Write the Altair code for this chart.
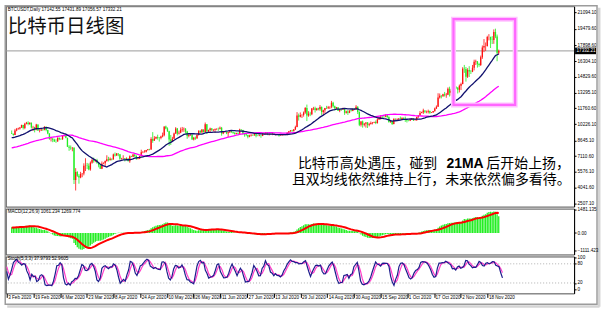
import altair as alt
import pandas as pd

# ---------------- daily BTCUSDT bars, 1 Dec 2019 .. 27 Nov 2020 (15 Mar absent from the feed) ----
close_2019_12 = [7420, 7310, 7300, 7200, 7400, 7540, 7510, 7540, 7340, 7220, 7200, 7190, 7250, 7070, 7110, 6880,
                 6620, 7280, 7150, 7190, 7140, 7510, 7320, 7250, 7200, 7200, 7250, 7320, 7390, 7220, 7170]
high_2019_12 = [7530, 7430, 7410, 7750, 7450, 7590, 7620, 7590, 7650, 7390, 7270, 7260, 7300, 7270, 7190, 7140,
                6930, 7440, 7360, 7230, 7200, 7540, 7690, 7440, 7280, 7450, 7330, 7390, 7520, 7420, 7300]
low_2019_12 = [7250, 7250, 7260, 7100, 7170, 7360, 7460, 7430, 7300, 7160, 7150, 7080, 7170, 7030, 7050, 6860,
               6560, 6430, 7060, 7100, 7100, 7130, 7270, 7180, 7140, 7170, 7080, 7240, 7310, 7200, 7150]

close_2020_01 = [7180, 6950, 7340, 7350, 7350, 7760, 8150, 8050, 7820, 8190, 8030, 8180, 8110, 8820, 8820, 8720,
                 8900, 8910, 8700, 8630, 8730, 8660, 8390, 8430, 8330, 8600, 8890, 9390, 9290, 9510, 9350]
high_2020_01 = [7250, 7210, 7400, 7400, 7500, 7800, 8210, 8450, 8060, 8200, 8300, 8200, 8200, 8880, 8900, 8860,
                9000, 8990, 9200, 8730, 8760, 8800, 8670, 8510, 8430, 8620, 8980, 9420, 9420, 9560, 9540]
low_2020_01 = [7140, 6920, 6870, 7270, 7300, 7340, 7730, 7870, 7730, 7720, 8000, 8010, 8050, 8100, 8600, 8610,
               8640, 8820, 8490, 8500, 8480, 8580, 8300, 8250, 8250, 8300, 8570, 8850, 9230, 9130, 9230]

close_2020_02 = [9390, 9340, 9290, 9180, 9610, 9730, 9800, 9900, 10150, 9850, 10270, 10350, 10240, 10360, 9900,
                 9930, 9700, 10180, 9600, 9610, 9690, 9660, 9960, 9650, 9310, 8780, 8810, 8700, 8540]
high_2020_02 = [9480, 9470, 9610, 9290, 9760, 9850, 9880, 9950, 10170, 10160, 10350, 10440, 10500, 10400, 10380,
                10060, 9970, 10250, 10190, 9720, 9770, 9710, 10020, 9980, 9670, 9340, 8980, 8890, 8800]
low_2020_02 = [9320, 9150, 9260, 9100, 9160, 9530, 9700, 9690, 9850, 9700, 9730, 10200, 10100, 10150, 9800,
               9560, 9420, 9620, 9560, 9420, 9560, 9560, 9620, 9530, 9240, 8700, 8540, 8470, 8500]

close_2020_03 = [8530, 8910, 8760, 8750, 9070, 9150, 8890, 8030, 7940, 7890, 7940, 4800, 5580, 5200, 5030,
                 5390, 5420, 6190, 6200, 6190, 5830, 6470, 6740, 6680, 6740, 6470, 6240, 5880, 6390, 6420]
high_2020_03 = [8750, 8930, 8910, 8850, 9160, 9200, 9180, 8890, 8180, 8150, 7990, 7980, 5950, 5660, 5380,
                5590, 5440, 6420, 6910, 6460, 6400, 6600, 6850, 6980, 6800, 6860, 6540, 6270, 6600, 6520]
low_2020_03 = [8410, 8520, 8660, 8680, 8700, 9010, 8850, 8000, 7630, 7730, 7590, 4410, 3780, 5100, 4440,
               4970, 5070, 5250, 5670, 5860, 5740, 5700, 6380, 6480, 6530, 6370, 6030, 5870, 5860, 6330]

close_2020_04 = [6640, 6810, 6740, 6860, 6790, 7270, 7180, 7360, 7290, 6860, 6890, 6910, 6850, 6860, 6630,
                 7100, 7050, 7270, 7130, 6850, 6860, 7130, 7490, 7510, 7540, 7700, 7790, 7760, 8790, 8620]
high_2020_04 = [6700, 7200, 7050, 6990, 6880, 7360, 7470, 7420, 7380, 7300, 6950, 7200, 6920, 6990, 6940,
                7190, 7150, 7310, 7290, 7210, 6940, 7160, 7740, 7620, 7700, 7720, 7800, 7830, 8950, 9450]
low_2020_04 = [6150, 6580, 6600, 6670, 6700, 6790, 7080, 7150, 7110, 6750, 6770, 6810, 6600, 6780, 6620,
               6470, 7020, 7030, 7050, 6760, 6800, 6830, 7090, 7400, 7450, 7470, 7650, 7680, 7730, 8410]

close_2020_05 = [8830, 8970, 8900, 8880, 9030, 9150, 9990, 9810, 9540, 8730, 8560, 8810, 9310, 9790, 9320, 9380,
                 9670, 9730, 9780, 9510, 9060, 9170, 9180, 8720, 8900, 8840, 9200, 9580, 9430, 9700, 9450]
high_2020_05 = [9060, 9020, 9200, 8960, 9100, 9400, 10000, 10080, 9910, 9580, 9170, 8990, 9400, 9930, 9850, 9590,
                9890, 9950, 9900, 9840, 9570, 9270, 9310, 9300, 8980, 9020, 9230, 9620, 9610, 9740, 9700]
low_2020_05 = [8620, 8760, 8720, 8530, 8750, 8940, 9040, 9720, 9470, 8120, 8200, 8530, 8800, 9270, 9130, 9220,
               9340, 9480, 9470, 9300, 8800, 8940, 9080, 8700, 8640, 8700, 8820, 9110, 9330, 9340, 9390]

close_2020_06 = [10200, 9520, 9660, 9790, 9620, 9670, 9750, 9780, 9770, 9880, 9320, 9470, 9470, 9340, 9430,
                 9520, 9460, 9380, 9300, 9360, 9290, 9690, 9630, 9290, 9250, 9160, 9010, 9120, 9190, 9140]
high_2020_06 = [10380, 10230, 9690, 9880, 9850, 9720, 9800, 9800, 9880, 9990, 9950, 9560, 9500, 9480, 9490,
                9580, 9560, 9490, 9430, 9390, 9420, 9780, 9700, 9670, 9330, 9280, 9200, 9190, 9230, 9200]
low_2020_06 = [9420, 9260, 9380, 9450, 9580, 9530, 9380, 9640, 9570, 9700, 9100, 9250, 9380, 9250, 8970,
               9370, 9380, 9280, 9200, 9230, 9270, 9280, 9570, 9210, 9000, 9050, 8840, 8950, 9030, 9090]

close_2020_07 = [9230, 9090, 9060, 9130, 9070, 9340, 9250, 9430, 9240, 9290, 9240, 9300, 9240, 9250, 9200, 9130,
                 9150, 9170, 9210, 9160, 9390, 9540, 9610, 9540, 9700, 9940, 11050, 10930, 11100, 11110, 11350]
high_2020_07 = [9300, 9270, 9130, 9190, 9140, 9360, 9350, 9450, 9440, 9310, 9300, 9340, 9340, 9280, 9270, 9210,
                9180, 9190, 9240, 9230, 9430, 9560, 9650, 9670, 9750, 10070, 11390, 11250, 11360, 11180, 11450]
low_2020_07 = [9090, 8940, 9050, 9050, 8900, 9060, 9200, 9240, 9150, 9120, 9190, 9150, 9190, 9120, 9150, 9010,
               9090, 9120, 9120, 9140, 9150, 9300, 9480, 9500, 9530, 9650, 9920, 10570, 10880, 10820, 10950]

close_2020_08 = [11800, 11070, 11230, 11190, 11740, 11770, 11600, 11750, 11680, 11880, 11400, 11580, 11780, 11770,
                 11860, 11910, 12290, 11960, 11760, 11870, 11520, 11680, 11650, 11750, 11330, 11460, 11320, 11540,
                 11510, 11680, 11650]
high_2020_08 = [11880, 12120, 11480, 11420, 11790, 11900, 11920, 11800, 11810, 12070, 11940, 11620, 11800, 12000,
                11990, 11930, 12480, 12390, 12020, 11890, 11880, 11690, 11720, 11820, 11770, 11530, 11590, 11560,
                11600, 11700, 11790]
low_2020_08 = [11220, 10520, 10940, 11000, 11090, 11580, 11350, 11520, 11560, 11520, 11120, 11150, 11300, 11690,
               11700, 11690, 11770, 11820, 11560, 11680, 11510, 11380, 11520, 11600, 11120, 11250, 11120, 11290,
               11450, 11480, 11580]

close_2020_09 = [11920, 11390, 10170, 10470, 10160, 10250, 10370, 10130, 10220, 10340, 10390, 10440, 10330, 10680,
                 10790, 10950, 10940, 10930, 11080, 10920, 10420, 10530, 10240, 10740, 10690, 10730, 10770, 10690,
                 10840, 10780]
high_2020_09 = [12070, 11960, 11460, 10520, 10570, 10340, 10410, 10430, 10350, 10480, 10410, 10460, 10580, 10800,
                10930, 11100, 11040, 11040, 11180, 11080, 10990, 10580, 10540, 10770, 10760, 10790, 10800, 10960,
                10860, 10850]
low_2020_09 = [11650, 11200, 10030, 9990, 9880, 10000, 9880, 9850, 10010, 10210, 10200, 10320, 10220, 10270,
               10630, 10660, 10740, 10820, 10890, 10820, 10360, 10350, 10140, 10200, 10530, 10620, 10630, 10650,
               10630, 10670]

close_2020_10 = [10620, 10570, 10550, 10670, 10790, 10600, 10670, 10920, 11060, 11300, 11380, 11540, 11430, 11430,
                 11500, 11320, 11360, 11500, 11750, 11920, 12820, 12980, 12930, 13120, 13030, 13070, 13650, 13280,
                 13460, 13560, 13800]
high_2020_10 = [10950, 10660, 10600, 10690, 10800, 10800, 10690, 10950, 11100, 11490, 11430, 11720, 11560, 11540,
                11630, 11540, 11400, 11500, 11830, 12040, 13220, 13200, 13030, 13170, 13350, 13250, 13790, 13860,
                13640, 13680, 14100]
low_2020_10 = [10440, 10380, 10500, 10520, 10620, 10530, 10590, 10530, 10830, 11040, 11280, 11210, 11290, 11280,
               11260, 11220, 11300, 11340, 11420, 11690, 11900, 12700, 12720, 12880, 12900, 12780, 13040, 12900,
               12990, 13120, 13430]

close_2020_11 = [13760, 13550, 13950, 14130, 15590, 15580, 14830, 15480, 15330, 15300, 15700, 16280, 16320, 16070,
                 15960, 16720, 17660, 17800, 17820, 18680, 18680, 18410, 18380, 19160, 18740, 17150, 17332.21]
high_2020_11 = [13900, 13820, 14070, 14250, 15750, 15970, 15770, 15650, 15850, 15480, 15970, 16480, 16480, 16320,
                16180, 16880, 17860, 18480, 18150, 18800, 18960, 18720, 18770, 19420, 19490, 18920, 17460]
low_2020_11 = [13620, 13200, 13300, 13530, 14090, 15200, 14350, 14700, 14800, 15090, 15270, 15440, 15960, 15710,
               15790, 15870, 16560, 17210, 17330, 17750, 18350, 17610, 18000, 18020, 18570, 16330, 16980]

bars_before_window = 64          # 1 Dec 2019 .. 2 Feb 2020, used only to seed the indicators
x_labels = ["3 Feb 2020", "19 Feb 2020", "6 Mar 2020", "23 Mar 2020", "8 Apr 2020", "24 Apr 2020",
            "10 May 2020", "26 May 2020", "11 Jun 2020", "27 Jun 2020", "13 Jul 2020", "29 Jul 2020",
            "14 Aug 2020", "30 Aug 2020", "15 Sep 2020", "1 Oct 2020", "17 Oct 2020", "2 Nov 2020", "18 Nov 2020"]
bars_per_label = 16
price_ticks = [21094.10, 19479.60, 17898.60, 16304.10, 14829.60, 13295.10, 11760.60,
               10226.10, 8645.10, 7110.60, 5576.10, 4041.60, 2507.10]
macd_ticks = [1481.135, 0.0, -1111.423]
stoch_ticks = [100, 80, 20, 0]
stoch_levels = [80, 20]
header_text = "BTCUSDT,Daily  17142.55 17431.89 17056.57 17332.21"
macd_text = "MACD(12,26,9) 1061.234 1269.774"
stoch_text = "Stoch(5,3,3) 37.9793 52.9605"
title_text = "比特币日线图"
note_1a, note_1b, note_1c = "比特币高处遇压，碰到", "21MA", "后开始上扬，"
note_2 = "且双均线依然维持上行，未来依然偏多看待。"
# highlighted zone (bar index / price)
box_x = [269.4, 307.0]
box_price = [12090, 20415]

# ---------------- assemble ----------------
months = ["2019_12", "2020_01", "2020_02", "2020_03", "2020_04", "2020_05", "2020_06",
          "2020_07", "2020_08", "2020_09", "2020_10", "2020_11"]
g = globals()
close = sum([g["close_" + m] for m in months], [])
high = sum([g["high_" + m] for m in months], [])
low = sum([g["low_" + m] for m in months], [])
assert len(close) == len(high) == len(low)

c = pd.Series(close, dtype=float)
h = pd.Series(high, dtype=float)
l = pd.Series(low, dtype=float)
o = c.shift(1).fillna(c.iloc[0])
df = pd.DataFrame({"idx": range(-bars_before_window, len(c) - bars_before_window),
                   "open": o, "high": h, "low": l, "close": c})
df["dir"] = ["up" if cc >= oo else "down" for cc, oo in zip(df["close"], df["open"])]
df["ma21"] = c.rolling(21).mean()
df["ma60"] = c.rolling(60).mean()
macd = c.ewm(span=12, adjust=False).mean() - c.ewm(span=26, adjust=False).mean()
df["macd"] = macd
df["signal"] = macd.rolling(9).mean()
ll = l.rolling(5).min()
hh = h.rolling(5).max()
k = 100 * (c - ll).rolling(3).sum() / (hh - ll).rolling(3).sum()
df["k"] = k
df["d"] = k.rolling(3).mean()
df["zero"] = 0.0
df = df[df["idx"] >= 0].reset_index(drop=True)
last_price = close[-1]

# ---------------- styling ----------------
W = 570
H_MAIN, H_MACD, H_STOCH = 201, 46, 37
RED, GREEN = "#ff1010", "#22ee22"
LBL_FONT = "Liberation Sans"
CJK = "Noto Sans CJK SC"

xs = alt.Scale(domain=[-0.6, 339.9], nice=False, zero=False)
ys_main = alt.Scale(domain=[2217, 21674], nice=False, zero=False)
ys_macd = alt.Scale(domain=[-1359, 1548], nice=False, zero=False)
ys_stoch = alt.Scale(domain=[-12.5, 103.1], nice=False, zero=False)

def right_axis(values, fmt=None, expr=None):
    kw = dict(orient="right", values=values, title=None, grid=False, labelFontSize=4.6, labelFont=LBL_FONT,
              tickSize=2, labelPadding=1, labelOverlap=False, domain=True, domainColor="#000",
              tickColor="#000", labelColor="#000")
    if fmt:
        kw["format"] = fmt
    if expr:
        kw["labelExpr"] = expr
    return alt.Axis(**kw)

ax_main = right_axis(price_ticks, fmt=".2f")
ax_macd = right_axis(macd_ticks, expr="datum.value == 0 ? '0.00' : format(datum.value, '.3f')")
ax_stoch = right_axis(stoch_ticks, fmt="d")

X = alt.X("idx:Q", scale=xs, axis=None)
label_js = "[" + ",".join("'%s'" % s for s in x_labels) + "]"
X_bottom = alt.X("idx:Q", scale=xs, axis=alt.Axis(
    values=[i * bars_per_label for i in range(len(x_labels))],
    labelExpr=label_js + "[round(datum.value/%d)]" % bars_per_label,
    title=None, grid=False, domain=False, tickSize=4, tickColor="#000", labelAlign="left",
    labelBaseline="top", labelFontSize=4.6, labelFont=LBL_FONT, labelPadding=-3, labelOffset=1,
    labelOverlap=False, labelFlush=False, labelBound=False, labelColor="#000"))
col = alt.Color("dir:N", scale=alt.Scale(domain=["up", "down"], range=[RED, GREEN]), legend=None)


def text(t, x, y, size, font=CJK, weight="normal", color="#000", align="left"):
    return alt.Chart(pd.DataFrame({"t": [t]})).mark_text(
        align=align, baseline="middle", fontSize=size, font=font, fontWeight=weight, color=color
    ).encode(x=alt.value(x), y=alt.value(y), text="t:N")


one = pd.DataFrame({"a": [0]})
# window frame around the whole terminal picture (decoration, in pixels of the main panel)
frame_shadow_b = alt.Chart(one).mark_rule(color="#d4d4d4", strokeWidth=2.5).encode(
    x=alt.value(1.5), x2=alt.value(595.5), y=alt.value(301.2))
frame_shadow_r = alt.Chart(one).mark_rule(color="#d4d4d4", strokeWidth=2.5).encode(
    x=alt.value(595.2), y=alt.value(1.5), y2=alt.value(301.5))
frame = alt.Chart(one).mark_rect(fillOpacity=0, stroke="#9c9c9c", strokeWidth=1.5).encode(
    x=alt.value(-0.5), x2=alt.value(593), y=alt.value(-0.5), y2=alt.value(299))

price_df = pd.DataFrame({"p": [last_price]})
price_line = alt.Chart(price_df).mark_rule(color="#9a9a9a", strokeWidth=1).encode(
    y=alt.Y("p:Q", scale=ys_main, axis=ax_main))
wicks = alt.Chart(df).mark_rule(strokeWidth=0.8, clip=True).encode(
    x=X, y=alt.Y("low:Q", scale=ys_main, axis=ax_main), y2="high:Q", color=col)
bodies = alt.Chart(df).mark_bar(size=1.3, clip=True).encode(
    x=X, y=alt.Y("open:Q", scale=ys_main, axis=ax_main), y2="close:Q", color=col)
ma_slow = alt.Chart(df).mark_line(color="#ff00ff", strokeWidth=1.3, clip=True).encode(
    x=X, y=alt.Y("ma60:Q", scale=ys_main, axis=ax_main))
ma_fast = alt.Chart(df).mark_line(color="#10106e", strokeWidth=1.3, clip=True).encode(
    x=X, y=alt.Y("ma21:Q", scale=ys_main, axis=ax_main))
box_df = pd.DataFrame({"x0": [box_x[0]], "x1": [box_x[1]], "y0": [box_price[0]], "y1": [box_price[1]]})
box_glow = alt.Chart(box_df).mark_rect(fillOpacity=0, stroke="#ffc4ff", strokeWidth=5).encode(
    x=alt.X("x0:Q", scale=xs, axis=None), x2="x1:Q", y=alt.Y("y0:Q", scale=ys_main, axis=ax_main), y2="y1:Q")
box_line = alt.Chart(box_df).mark_rect(fillOpacity=0, stroke="#ff66ff", strokeWidth=2.2).encode(
    x=alt.X("x0:Q", scale=xs, axis=None), x2="x1:Q", y=alt.Y("y0:Q", scale=ys_main, axis=ax_main), y2="y1:Q")
price_box = alt.Chart(price_df).mark_rect(color="#000", yOffset=-3.3, y2Offset=3.3).encode(
    x=alt.value(571), x2=alt.value(592), y=alt.Y("p:Q", scale=ys_main, axis=ax_main), y2="p:Q")
price_txt = alt.Chart(price_df).mark_text(color="#fff", fontSize=4.6, font=LBL_FONT, align="left",
                                          baseline="middle").encode(
    x=alt.value(572.5), y=alt.Y("p:Q", scale=ys_main, axis=ax_main), text=alt.Text("p:Q", format=".2f"))

main = alt.layer(
    frame_shadow_b, frame_shadow_r, frame,
    price_line, wicks, bodies, ma_slow, ma_fast, box_glow, box_line, price_box, price_txt,
    text(header_text, 2, 4, 4.6, font=LBL_FONT),
    text(title_text, 2, 20.5, 19.5, color="#111"),
    text(note_1a, 293, 158, 14),
    text(note_1b, 442, 158, 14, font=LBL_FONT, weight="bold"),
    text(note_1c, 482, 158, 14),
    text(note_2, 287, 174.5, 14),
).properties(width=W, height=H_MAIN)

hist = alt.Chart(df).mark_bar(size=1.3, color=GREEN, clip=True).encode(
    x=X, y=alt.Y("macd:Q", scale=ys_macd, axis=ax_macd), y2="zero:Q")
sig = alt.Chart(df).mark_line(color="#ff0000", strokeWidth=2, clip=True).encode(
    x=X, y=alt.Y("signal:Q", scale=ys_macd, axis=ax_macd))
macd_panel = alt.layer(hist, sig, text(macd_text, 2, 3, 4.6, font=LBL_FONT)).properties(width=W, height=H_MACD)

lv = alt.Chart(pd.DataFrame({"v": stoch_levels})).mark_rule(color="#b0b0b0", strokeDash=[1, 2]).encode(
    y=alt.Y("v:Q", scale=ys_stoch, axis=ax_stoch))
dline = alt.Chart(df).mark_line(color="#ff3cc8", strokeWidth=1.2, clip=True).encode(
    x=X_bottom, y=alt.Y("d:Q", scale=ys_stoch, axis=ax_stoch))
kline = alt.Chart(df).mark_line(color="#1c1c8c", strokeWidth=1.2, clip=True).encode(
    x=X_bottom, y=alt.Y("k:Q", scale=ys_stoch, axis=ax_stoch))
stoch_panel = alt.layer(lv, dline, kline, text(stoch_text, 2, 3, 4.6, font=LBL_FONT)).properties(
    width=W, height=H_STOCH)

chart = alt.vconcat(main, macd_panel, stoch_panel, spacing=2, bounds="flush").properties(
    padding={"left": 3.75, "top": 3.75, "right": 0, "bottom": 0}, background="white"
).configure_view(stroke="#4d4d4d", strokeWidth=1)

chart.save("out.html", embed_options={"renderer": "svg", "actions": False})
